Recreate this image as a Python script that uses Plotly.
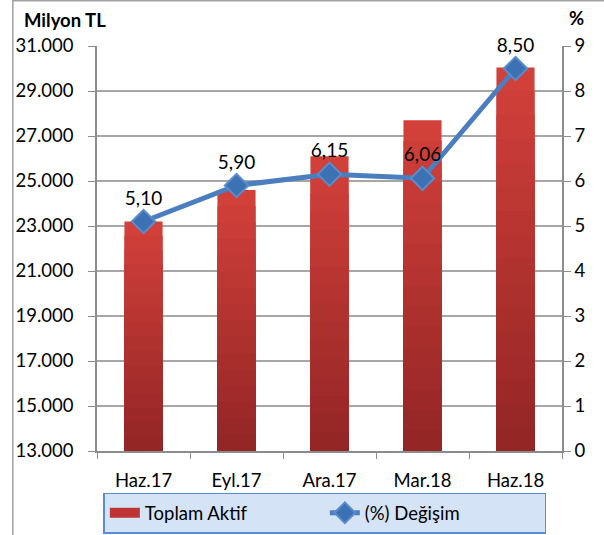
import plotly.graph_objects as go

categories = ["Haz.17", "Eyl.17", "Ara.17", "Mar.18", "Haz.18"]
toplam_aktif = [23200, 24600, 26100, 27700, 30050]
degisim = [5.10, 5.90, 6.15, 6.06, 8.50]
left_ticks = [13000, 15000, 17000, 19000, 21000, 23000, 25000, 27000, 29000, 31000]
right_ticks = list(range(0, 10))

BASE = 13000
FONT = "Lato, Liberation Sans, sans-serif"

fig = go.Figure()

# Gradient bars: stacked layers from darker bottom to lighter top
n_layers = 16
top_c = (210, 64, 58)
bot_c = (148, 38, 38)
for i in range(n_layers):
    f = 1 - i / n_layers
    t = i / (n_layers - 1)
    c = tuple(int(top_c[k] + (bot_c[k] - top_c[k]) * t) for k in range(3))
    fig.add_trace(go.Bar(
        x=categories,
        y=[(v - BASE) * f for v in toplam_aktif],
        base=BASE,
        width=0.41,
        marker=dict(color=f"rgb{c}", line=dict(width=0)),
        name="Toplam Aktif",
        showlegend=False,
        hoverinfo="skip" if i else None,
    ))

# legend proxy for the bars (wide red swatch)
fig.add_trace(go.Scatter(
    x=[None], y=[None], mode="lines", name="Toplam Aktif",
    line=dict(color="rgb(190,52,50)", width=13),
))

fig.add_trace(go.Scatter(
    x=categories,
    y=degisim,
    yaxis="y2",
    mode="lines+markers+text",
    name="(%) Değişim",
    line=dict(color="#4A7EBF", width=5),
    marker=dict(symbol="diamond", size=18, color="#3C71B3",
                line=dict(color="#5A8CCB", width=2)),
    text=[f"{v:.2f}".replace(".", ",") for v in degisim],
    textposition="top center",
    textfont=dict(family=FONT, size=19, color="#000000"),
    cliponaxis=False,
))

fig.update_layout(
    width=604, height=535,
    barmode="overlay",
    separators=",.",
    margin=dict(l=97, r=42, t=46, b=84, autoexpand=False),
    paper_bgcolor="white",
    plot_bgcolor="white",
    font=dict(family=FONT, size=18, color="#000000"),
    xaxis=dict(
        type="category",
        showline=True, linecolor="#8C8C8C", linewidth=1.5,
        ticks="outside", tickson="boundaries", ticklen=6, tickcolor="#8C8C8C",
        tickfont=dict(size=18.5),
        ticklabelstandoff=12,
        showgrid=False,
    ),
    yaxis=dict(
        range=[BASE, 31000],
        tickvals=left_ticks,
        tickformat=",d",
        showline=True, linecolor="#8C8C8C", linewidth=1.5,
        ticks="outside", ticklen=7, tickcolor="#8C8C8C",
        ticklabelstandoff=11,
        showgrid=True, gridcolor="#A6A6A6", gridwidth=1.5,
        tickfont=dict(size=18.5),
        zeroline=False,
    ),
    yaxis2=dict(
        range=[0, 9],
        tickvals=right_ticks,
        overlaying="y", side="right",
        showline=True, linecolor="#8C8C8C", linewidth=1.5,
        ticks="outside", ticklen=7, tickcolor="#8C8C8C",
        showgrid=False, zeroline=False,
        tickfont=dict(size=18.5),
    ),
    legend=dict(
        orientation="h",
        x=0.49, xanchor="center",
        yref="container", y=0.079, yanchor="top",
        bgcolor="#D5E3F7",
        bordercolor="#5B8BD0", borderwidth=1.5,
        font=dict(size=18.5),
        entrywidth=175,
        traceorder="normal",
    ),
    annotations=[
        dict(text="<b>Milyon TL</b>", xref="paper", yref="paper",
             x=-0.161, y=1.064, xanchor="left", yanchor="middle",
             showarrow=False, font=dict(size=18.5)),
        dict(text="<b>%</b>", xref="paper", yref="paper",
             x=1.032, y=1.069, xanchor="center", yanchor="middle",
             showarrow=False, font=dict(size=18.5)),
    ],
    shapes=[
        dict(type="path", xref="paper", yref="paper",
             path="M -0.181,-0.3 L -0.181,1.112 L 1.2,1.112",
             line=dict(color="#A0A0A0", width=1.5)),
    ],
)

fig.write_html("out.html", config={"displayModeBar": False},
               post_script="document.body.style.margin='0';")
